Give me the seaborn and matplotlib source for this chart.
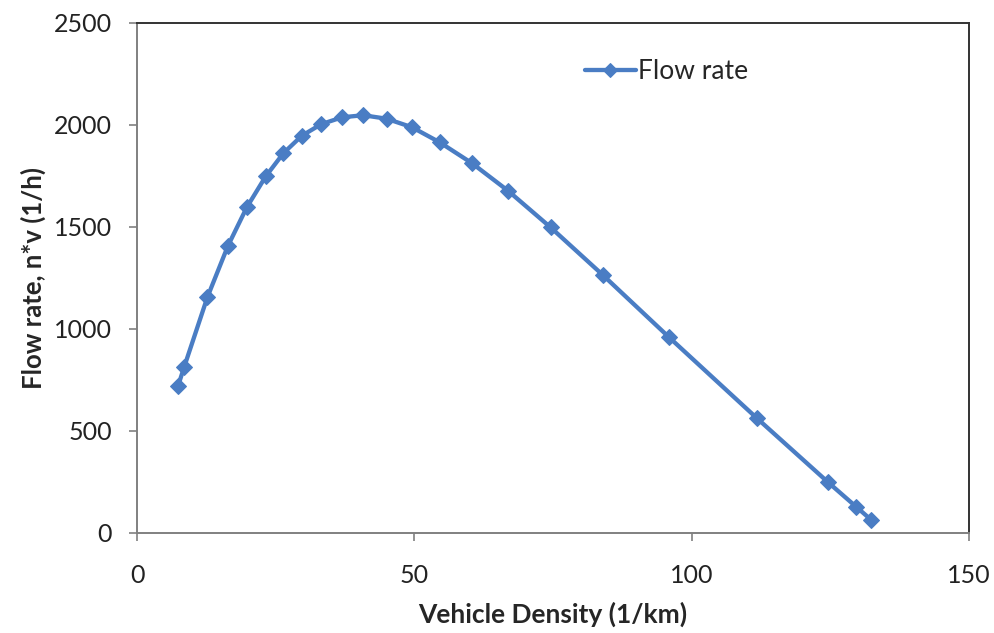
import numpy as np
import pandas as pd
import matplotlib
matplotlib.use('Agg')
import matplotlib.pyplot as plt
import seaborn as sns

# Data
density = [7.4, 8.5, 12.7, 16.4, 19.8, 23.2, 26.4, 29.7, 33.2, 37.0, 40.8, 45.0,
           49.6, 54.6, 60.4, 66.9, 74.6, 84.0, 95.9, 111.8, 124.6, 129.7, 132.4]
flow = [720, 813, 1156, 1407, 1596, 1747, 1861, 1946, 2003, 2037, 2047, 2030,
        1988, 1914, 1812, 1677, 1497, 1264, 960, 562, 249, 128, 64]
x_ticks = [0, 50, 100, 150]
y_ticks = [0, 500, 1000, 1500, 2000, 2500]

df = pd.DataFrame({'Vehicle Density (1/km)': density, 'Flow rate': flow})

sns.set_style('white')
plt.rcParams['font.family'] = ['Lato', 'DejaVu Sans']

fig = plt.figure(figsize=(9.95, 6.33), dpi=100)
ax = fig.add_axes([0.1377, 0.158, 0.836, 0.806])

blue = '#4A7DC4'
sns.lineplot(data=df, x='Vehicle Density (1/km)', y='Flow rate', ax=ax,
             color=blue, linewidth=3.1, marker='D', markersize=8.5,
             markeredgecolor=blue, label='Flow rate', sort=False)

ax.set_xlim(0, 150)
ax.set_ylim(0, 2500)
ax.set_xticks(x_ticks)
ax.set_yticks(y_ticks)
ax.tick_params(axis='both', which='both', direction='out', length=6, width=1.2,
               color='#808080', labelsize=18, labelcolor='#222222', pad=12,
               bottom=True, left=True)
ax.tick_params(axis='x', pad=16)

for side in ['left', 'bottom']:
    ax.spines[side].set_color('#808080')
    ax.spines[side].set_linewidth(1.4)
for side in ['top', 'right']:
    ax.spines[side].set_color('#333333')
    ax.spines[side].set_linewidth(1.4)

ax.set_xlabel('Vehicle Density (1/km)', fontsize=19, fontweight='bold', labelpad=11)
ax.set_ylabel('Flow rate, n*v (1/h)', fontsize=18.5, fontweight='bold', labelpad=6)

leg = ax.legend(loc='upper left', bbox_to_anchor=(0.52, 0.96), frameon=False,
                fontsize=19, handlelength=1.9, handletextpad=0.1, markerscale=0.8,
                borderaxespad=0.2)

fig.savefig('out.png', dpi=100)
